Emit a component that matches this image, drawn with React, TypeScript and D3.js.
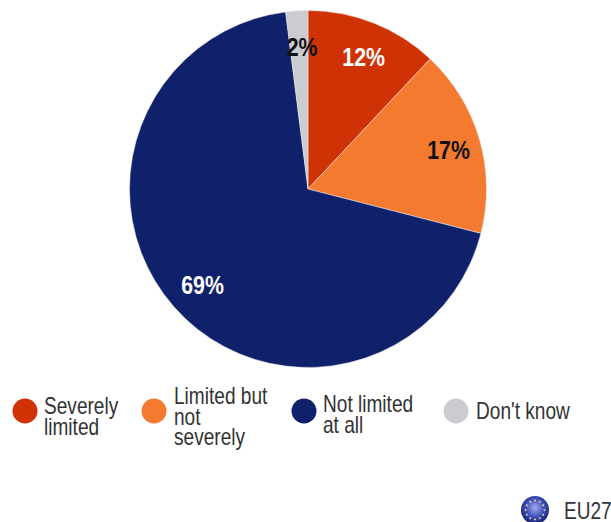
import React from "react";
import * as d3 from "d3";

const categories = ["Severely limited", "Limited but not severely", "Not limited at all", "Don't know"];
const shares = [12, 17, 69, 2];
const sliceColors = ["#cf3204", "#f47a30", "#10216b", "#cbcccf"];
const labelColors = ["#ffffff", "#111111", "#ffffff", "#111111"];
const legendLines = [["Severely", "limited"], ["Limited but", "not", "severely"], ["Not limited", "at all"], ["Don't know"]];
const regionLabel = "EU27";
const starCount = 12;

const WIDTH = 611;
const HEIGHT = 522;
const FONT = "'Liberation Sans', Arial, sans-serif";

export default function App() {
  const cx = 308;
  const cy = 189;
  const radius = 178.5;
  const pie = d3.pie<number>().value((d) => d).sort(null);
  const arc = d3.arc<d3.PieArcDatum<number>>().innerRadius(0).outerRadius(radius);
  const arcs = pie(shares);

  // Value labels sit at hand-tuned offsets from each slice's mid-angle, since the slices differ so much in size.
  const labelRadius = [0.74, 0.82, 0.75, 0.8];
  const labelAdjust: [number, number][] = [[7, -9], [0, 2], [-5, 7], [3, 0]];

  const legendX = [25, 154, 304, 456];
  const legendTextX = [44, 174, 323, 476];
  const legendFirstBaseline = [414, 404, 412, 419];
  const lineStep = 20.5;

  const stars = d3.range(starCount).map((i) => (i / starCount) * 2 * Math.PI);

  return (
    <svg
      width={WIDTH}
      height={HEIGHT}
      viewBox={`0 0 ${WIDTH} ${HEIGHT}`}
      style={{ position: "absolute", left: 0, top: 0, background: "#fff" }}
      fontFamily={FONT}
    >
      <defs>
        <radialGradient id="globe" cx="50%" cy="42%" r="58%">
          <stop offset="0%" stopColor="#a3acec" />
          <stop offset="55%" stopColor="#4253bb" />
          <stop offset="100%" stopColor="#151f6e" />
        </radialGradient>
      </defs>

      <g transform={`translate(${cx},${cy})`}>
        {arcs.map((d, i) => (
          <path key={categories[i]} d={arc(d) ?? ""} fill={sliceColors[i]} stroke="#e8e8ee" strokeWidth={0.5} />
        ))}
        {arcs.map((d, i) => {
          const mid = (d.startAngle + d.endAngle) / 2;
          const r = radius * labelRadius[i];
          const x = Math.sin(mid) * r + labelAdjust[i][0];
          const y = -Math.cos(mid) * r + labelAdjust[i][1];
          return (
            <text
              key={categories[i]}
              transform={`translate(${x},${y}) scale(0.82,1)`}
              textAnchor="middle"
              dominantBaseline="central"
              fontSize={26}
              fontWeight={700}
              fill={labelColors[i]}
            >
              {`${shares[i]}%`}
            </text>
          );
        })}
      </g>

      {categories.map((c, i) => (
        <g key={c}>
          <circle cx={legendX[i]} cy={411} r={12.5} fill={sliceColors[i]} />
          <text
            transform={`translate(${legendTextX[i]},${legendFirstBaseline[i]}) scale(0.83,1)`}
            fontSize={23}
            fill="#333333"
          >
            {legendLines[i].map((line, j) => (
              <tspan key={line} x={0} y={j * lineStep}>
                {line}
              </tspan>
            ))}
          </text>
        </g>
      ))}

      <g transform="translate(535,510)">
        <circle r={14} fill="url(#globe)" />
        {stars.map((a) => (
          <circle key={a} cx={Math.sin(a) * 9.5} cy={-Math.cos(a) * 9.5} r={1} fill="#d9d6a0" />
        ))}
      </g>
      <text transform="translate(564,519) scale(0.83,1)" fontSize={23} fill="#333333">
        {regionLabel}
      </text>
    </svg>
  );
}
